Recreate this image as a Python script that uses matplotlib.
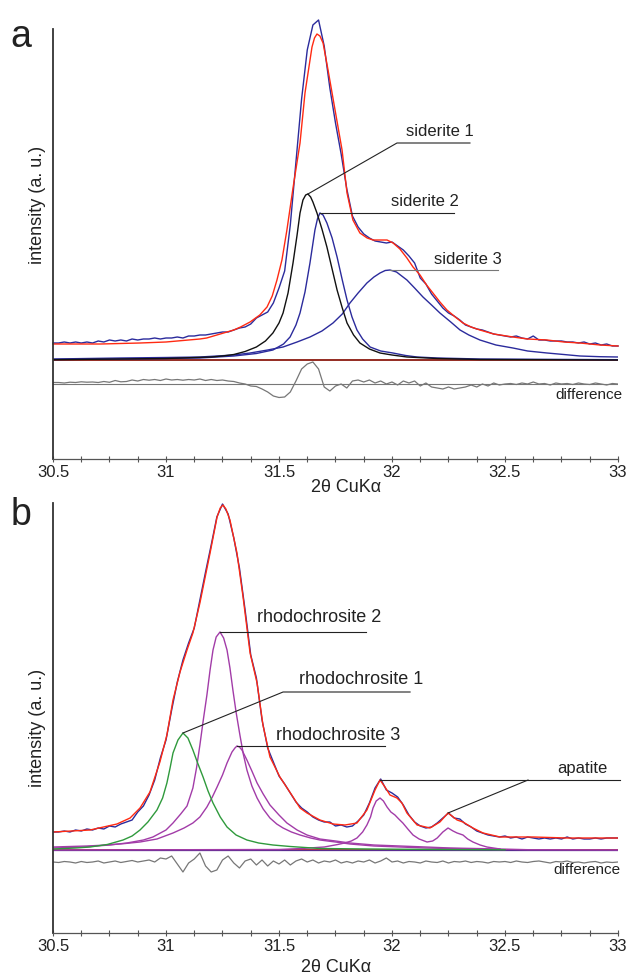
"""XRD peak fits of siderite (a) and rhodochrosite/apatite (b)."""

import matplotlib.pyplot as plt
import numpy as np
from matplotlib.ticker import MultipleLocator

plt.rcParams["font.family"] = ["Liberation Sans", "DejaVu Sans"]

# ---- data (intensity in arbitrary units above the fit baseline) ----
scan_x = np.linspace(30.5, 33.0, 101)          # 2theta steps of the scan
tick_values = [30.5, 31, 31.5, 32, 32.5, 33]
tick_labels = ["30.5", "31", "31.5", "32", "32.5", "33"]

# panel a: siderite
obs_a = [17, 17, 18, 17, 18, 17, 18, 17, 19, 18,
         20, 19, 20, 19, 21, 20, 21, 21, 22, 21,
         22, 22, 23, 22, 24, 24, 25, 25, 26, 27,
         28, 28, 30, 32, 33, 36, 42, 45, 48, 57,
         72, 89, 135, 198, 261, 310, 335, 340, 314, 272,
         237, 206, 171, 144, 133, 126, 122, 119, 118, 117,
         118, 114, 110, 104, 97, 82, 76, 66, 59, 52,
         47, 44, 40, 35, 33, 31, 30, 28, 26, 25,
         24, 23, 24, 22, 21, 24, 20, 20, 19, 19,
         19, 18, 18, 17, 18, 16, 17, 15, 16, 14, 14]
diff_a = [1.5, 1.5, 1, 1.8, 1.5, 2.2, 1.8, 2, 1.5, 2.5,
          1.7, 3.5, 2.2, 2.5, 4, 3, 4.5, 3.8, 4.5, 3.5,
          5, 4, 4.5, 3.8, 4.5, 4, 5, 3.5, 4.5, 3.5,
          4, 3, 2.5, 1, 0, -2, -2.5, -5, -8, -12,
          -13.5, -13, -8, 3, 15, 20, 22, 15, -3, -7,
          -2, 0, -4, 3, 4, 2, 4, 1, 3, 0,
          2, -1, 3, 1, 3, -2, 1, -3, -4, -5,
          -3, -5, -4, -3, -1, -3, 0, -2, 1, -1,
          0, 0.5, -0.5, 1, 0, 2, 0, 0.5, -1, 1,
          0, 0.5, -0.5, 1, 0, -0.5, 1, 0, -1, 0.5, 0]
fit_a_x = [30.5, 30.71, 30.885, 31.0, 31.15, 31.18, 31.24, 31.30, 31.33, 31.372,
           31.415, 31.447, 31.47, 31.491, 31.513, 31.535, 31.562, 31.593, 31.615, 31.646,
           31.657, 31.668, 31.681, 31.695, 31.717, 31.748, 31.779, 31.801, 31.827, 31.858,
           31.89, 31.916, 31.947, 31.978, 32.005, 32.035, 32.066, 32.093, 32.124, 32.153,
           32.181, 32.212, 32.243, 32.28, 32.314, 32.35, 32.389, 32.45, 32.535, 32.6,
           32.686, 32.76, 32.832, 32.92, 33.0]
fit_a_y = [16, 16, 17, 18, 21, 22, 26, 30, 33, 38,
           45, 53, 64, 80, 100, 130, 172, 217, 267, 313,
           322, 326, 324, 317, 290, 250, 210, 167, 140, 127,
           122, 120, 120, 120, 117, 111, 102, 93, 85, 75,
           67, 58, 50, 43, 37, 33, 30, 26, 23, 21,
           20, 18, 17, 15, 14]
sid1_x = [30.5, 31.0, 31.2, 31.25, 31.3, 31.35, 31.4, 31.44, 31.473, 31.5,
          31.518, 31.54, 31.562, 31.58, 31.593, 31.606, 31.618, 31.628, 31.64, 31.65,
          31.668, 31.69, 31.712, 31.735, 31.757, 31.78, 31.801, 31.83, 31.858, 31.9,
          31.947, 32.0, 32.066, 32.2, 32.39, 33.0]
sid1_y = [0.3, 1.5, 3, 4, 5.5, 8.5, 13, 19, 27, 37,
          47, 67, 97, 125, 147, 160, 165, 166, 163, 158,
          147, 131, 113, 91, 70, 52, 37, 25, 17, 11,
          7, 5, 3, 1.5, 0.5, 0]
sid2_x = [30.5, 31.0, 31.15, 31.3, 31.4, 31.473, 31.52, 31.549, 31.575, 31.593,
          31.615, 31.637, 31.659, 31.67, 31.681, 31.695, 31.712, 31.735, 31.757, 31.78,
          31.801, 31.823, 31.845, 31.87, 31.903, 31.95, 32.004, 32.06, 32.111, 32.2,
          32.39, 33.0]
sid2_y = [0.5, 1.5, 2, 4, 6.5, 10, 16, 23, 35, 47,
          68, 97, 130, 141, 147, 145, 137, 122, 103, 80,
          60, 43, 30, 21, 13, 9, 7, 4.5, 3, 2,
          1, 0.3]
sid3_x = [30.5, 30.8, 31.0, 31.15, 31.3, 31.372, 31.45, 31.518, 31.58, 31.637,
          31.69, 31.739, 31.78, 31.814, 31.85, 31.889, 31.92, 31.947, 31.97, 31.991,
          32.02, 32.066, 32.1, 32.137, 32.175, 32.212, 32.26, 32.301, 32.34, 32.389,
          32.46, 32.535, 32.6, 32.686, 32.76, 32.832, 32.92, 33.0]
sid3_y = [1, 2, 2.5, 3, 5, 7, 10, 13, 18, 23,
          29, 37, 46, 57, 67, 77, 83, 87, 89.5, 90,
          88, 80, 72, 63, 55, 47, 38, 30, 25, 20,
          15, 12, 9, 7, 5.5, 4, 3.3, 3]

# panel b: rhodochrosite + apatite
obs_b = [18, 18, 19, 18, 20, 19, 21, 20, 22, 21,
         24, 23, 26, 28, 30, 38, 44, 55, 70, 92,
         110, 140, 168, 190, 207, 222, 250, 278, 305, 333,
         346, 336, 312, 282, 240, 195, 172, 130, 102, 88,
         74, 66, 57, 48, 42, 38, 33, 30, 28, 28,
         24, 25, 23, 24, 29, 35, 47, 62, 71, 60,
         57, 53, 45, 35, 28, 24, 22, 23, 27, 32,
         37, 32, 31, 26, 23, 19, 17, 15, 14, 13,
         14, 12, 13, 11, 13, 12, 11, 12, 11, 12,
         11, 13, 11, 12, 11, 11, 12, 11, 12, 12, 12]
diff_b = [0, -0.5, 0.5, 0, -1, 0.5, -0.5, 0, 1, -1,
          0, 1, -0.5, 0.5, 1.5, 0, 1, 2, 0, 4,
          3, 6, -2, -10, -1, 3, 9, -4, -10, -8,
          2, 6, -1, -6, 1, 3, -3, 2, -4, 1,
          -2, 2, -3, 1, 3, 0, 2, -1, 1, 0,
          2, -1, 0.5, -1, 1, 0, 2, -1, 1, 4,
          0, 1, -1, 0.5, 0, -1, 1, 0, -0.5, 1,
          -1, 0.5, 0, 1, -0.5, 0.5, 0, -1, 0.5, 0,
          0.5, -0.5, 1, 0, -0.5, 0.5, 1, 0, -1, 0.5,
          0, 1, -0.5, 0, -1, 0, 0.5, -1, 0, -0.5, 0]
fit_b_x = [30.5, 30.664, 30.783, 30.841, 30.885, 30.929, 30.973, 31.004, 31.031, 31.062,
           31.093, 31.119, 31.15, 31.195, 31.226, 31.24, 31.252, 31.265, 31.283, 31.314,
           31.341, 31.372, 31.403, 31.429, 31.46, 31.504, 31.562, 31.593, 31.624, 31.681,
           31.739, 31.792, 31.845, 31.889, 31.925, 31.947, 31.969, 31.991, 32.022, 32.044,
           32.066, 32.111, 32.168, 32.212, 32.248, 32.288, 32.314, 32.358, 32.403, 32.478,
           32.624, 32.774, 33.0]
fit_b_y = [18, 20, 26, 32, 42, 58, 88, 115, 150, 178,
           200, 217, 247, 297, 333, 342, 345, 341, 330, 297,
           253, 197, 167, 125, 93, 73, 53, 42, 37, 30,
           26, 25, 27, 40, 60, 70, 63, 55, 52, 47,
           37, 25, 22, 28, 37, 30, 28, 22, 17, 13,
           13, 12, 12]
rho1_x = [30.5, 30.6, 30.664, 30.74, 30.81, 30.85, 30.885, 30.92, 30.96, 30.985,
          31.004, 31.018, 31.031, 31.053, 31.075, 31.097, 31.119, 31.14, 31.164, 31.186,
          31.208, 31.24, 31.27, 31.31, 31.358, 31.41, 31.473, 31.55, 31.681, 31.9,
          32.2, 32.5]
rho1_y = [1, 2, 3, 5.5, 10, 14, 20, 28, 40, 52,
          67, 82, 97, 110, 117, 112, 100, 87, 73, 59,
          47, 33, 23, 15, 10, 7, 5, 3.5, 1.5, 1,
          0.5, 0.2]
rho2_x = [30.5, 30.633, 30.75, 30.827, 30.9, 30.942, 31.0, 31.031, 31.065, 31.093,
          31.119, 31.135, 31.15, 31.165, 31.181, 31.195, 31.208, 31.222, 31.239, 31.255,
          31.27, 31.283, 31.296, 31.31, 31.327, 31.342, 31.358, 31.38, 31.403, 31.43,
          31.46, 31.49, 31.518, 31.555, 31.593, 31.64, 31.681, 31.75, 31.814, 31.92,
          32.035, 32.15, 32.257, 32.478]
rho2_y = [2, 3, 5, 7, 10, 13, 20, 27, 36, 44,
          62, 82, 105, 130, 155, 180, 200, 213, 218, 212,
          200, 182, 160, 138, 115, 96, 80, 64, 52, 41,
          32, 26, 22, 18, 15, 12, 10, 8, 6, 4,
          3, 2, 1.5, 0.5]
rho3_x = [30.5, 30.65, 30.739, 30.82, 30.885, 30.96, 31.031, 31.08, 31.119, 31.15,
          31.181, 31.205, 31.226, 31.25, 31.27, 31.292, 31.305, 31.314, 31.325, 31.336,
          31.358, 31.38, 31.403, 31.43, 31.46, 31.5, 31.535, 31.58, 31.624, 31.681,
          31.75, 31.814, 31.92, 32.035, 32.15, 32.257, 32.478]
rho3_y = [3, 4, 5, 6.5, 8, 11, 17, 22, 27, 33,
          43, 53, 63, 75, 87, 98, 102, 104, 103, 100,
          90, 79, 67, 56, 45, 35, 27, 20, 15, 11,
          9, 7, 5, 4, 3, 2, 1]
apa_x = [30.5, 31.5, 31.6, 31.7, 31.76, 31.79, 31.82, 31.845, 31.87, 31.889,
         31.905, 31.916, 31.93, 31.947, 31.962, 31.978, 31.995, 32.013, 32.03, 32.048,
         32.07, 32.093, 32.12, 32.155, 32.18, 32.2, 32.225, 32.248, 32.27, 32.288,
         32.314, 32.335, 32.358, 32.39, 32.42, 32.478, 32.6, 33.0]
apa_y = [0, 0.5, 1.5, 3, 5.5, 7, 9, 12, 18, 25,
         33, 42, 49, 52, 49, 43, 38, 35, 31, 27,
         21, 15, 11, 8, 9, 12, 18, 22, 19, 17,
         15, 11, 8, 5, 3, 1, 0.3, 0]

NAVY = "#2b2b9c"
RED = "#ff2a12"
MAGENTA = "#a23ca8"
GREEN = "#2f9a3c"
GRAY = "#777777"
TEXT = "#222222"


def style_axes(ax, ylim):
    ax.set_xlim(30.5, 33.0)
    ax.set_ylim(*ylim)
    for side in ("top", "right"):
        ax.spines[side].set_visible(False)
    ax.spines["left"].set_color("#333333")
    ax.spines["left"].set_linewidth(1.3)
    ax.spines["bottom"].set_color("#555555")
    ax.spines["bottom"].set_linewidth(0.9)
    ax.set_yticks([])
    ax.set_xticks(tick_values)
    ax.set_xticklabels(tick_labels)
    ax.xaxis.set_minor_locator(MultipleLocator(0.125))
    ax.tick_params(axis="x", which="both", direction="inout", length=5,
                   width=0.8, color="#555555", labelsize=12, pad=2,
                   labelcolor=TEXT)


def label_line(ax, xs, ys, text, text_xy, size, color="#222222"):
    ax.plot(xs, ys, color=color, lw=0.8, clip_on=False, zorder=5)
    ax.text(*text_xy, text, ha="center", va="center", fontsize=size, color=TEXT)


def peak(xs, ys):
    i = int(np.argmax(ys))
    return xs[i], ys[i]


fig = plt.figure(figsize=(6.3, 9.76), dpi=100)
ax_a = fig.add_axes([53 / 630, 517 / 976, 565 / 630, 430 / 976])
ax_b = fig.add_axes([53 / 630, 43 / 976, 565 / 630, 430 / 976])

# ---- panel a ----
style_axes(ax_a, (-99, 331))
ax_a.axhline(0, color="#8b1a10", lw=1.3, zorder=2)
ax_a.axhline(-24, color=GRAY, lw=0.8, zorder=2)
ax_a.plot(scan_x, np.array(diff_a) - 24, color=GRAY, lw=0.9)
ax_a.plot(sid3_x, sid3_y, color=NAVY, lw=1.0)
ax_a.plot(sid2_x, sid2_y, color=NAVY, lw=1.0)
ax_a.plot(sid1_x, sid1_y, color="#111111", lw=1.0)
ax_a.plot(scan_x, obs_a, color=NAVY, lw=1.0, clip_on=False)
ax_a.plot(fit_a_x, fit_a_y, color=RED, lw=1.0, clip_on=False)

px, py = peak(sid1_x, sid1_y)
label_line(ax_a, [px, 32.022, 32.345], [py, 217, 217], "siderite 1", (32.212, 229), 12)
px, py = peak(sid2_x, sid2_y)
label_line(ax_a, [px, 32.274], [py, py], "siderite 2", (32.146, 158), 12)
px, py = peak(sid3_x, sid3_y)
label_line(ax_a, [px, 32.469], [py, py], "siderite 3", (32.336, 101), 12, color="#777777")
ax_a.text(33.022, -35, "difference", ha="right", va="center", fontsize=11, color=TEXT)

# ---- panel b ----
style_axes(ax_b, (-83, 347))
ax_b.axhline(0, color="#c0303a", lw=1.4, zorder=2)
ax_b.axhline(0, color="#5a2c90", lw=0.9, zorder=2)
ax_b.plot(scan_x, np.array(diff_b) - 12, color=GRAY, lw=0.9)
ax_b.plot(apa_x, apa_y, color=MAGENTA, lw=1.0)
ax_b.plot(rho3_x, rho3_y, color=MAGENTA, lw=1.0)
ax_b.plot(rho2_x, rho2_y, color=MAGENTA, lw=1.0)
ax_b.plot(rho1_x, rho1_y, color=GREEN, lw=1.0)
ax_b.plot(scan_x, obs_b, color=NAVY, lw=1.0)
ax_b.plot(fit_b_x, fit_b_y, color=RED, lw=1.0)

px, py = peak(rho2_x, rho2_y)
label_line(ax_b, [px, 31.885], [py, py], "rhodochrosite 2", (31.679, 232), 13)
px, py = peak(rho1_x, rho1_y)
label_line(ax_b, [px, 31.518, 32.080], [py, 158, 158], "rhodochrosite 1", (31.865, 171), 13)
px, py = peak(rho3_x, rho3_y)
label_line(ax_b, [px, 31.969], [py, py], "rhodochrosite 3", (31.761, 115), 13)

fit_b_x_arr = np.array(fit_b_x)
fit_b_y_arr = np.array(fit_b_y)
m1 = (fit_b_x_arr > 31.8) & (fit_b_x_arr < 32.1)
m2 = (fit_b_x_arr > 32.15) & (fit_b_x_arr < 32.4)
a1 = (fit_b_x_arr[m1][np.argmax(fit_b_y_arr[m1])], fit_b_y_arr[m1].max())
a2 = (fit_b_x_arr[m2][np.argmax(fit_b_y_arr[m2])], fit_b_y_arr[m2].max())
label_line(ax_b, [a1[0], 33.009], [a1[1], a1[1]], "apatite", (32.841, 82), 12)
ax_b.plot([32.602, a2[0]], [a1[1], a2[1]], color="#222222", lw=0.8, zorder=5)
ax_b.text(33.009, -20, "difference", ha="right", va="center", fontsize=11, color=TEXT)

# ---- figure texts ----
for yc, letter, base in ((205, "a", 46.7), (728, "b", 525)):
    fig.text(37 / 630, 1 - yc / 976, "intensity (a. u.)", rotation=90,
             ha="center", va="center", fontsize=13, color=TEXT)
    fig.text(21 / 630, 1 - base / 976, letter, ha="center", va="baseline",
             fontsize=27, color=TEXT)
fig.text(346 / 630, 1 - 487 / 976, "2θ CuKα", ha="center", va="center",
         fontsize=13, color=TEXT)
fig.text(336 / 630, 1 - 967 / 976, "2θ CuKα", ha="center", va="center",
         fontsize=13, color=TEXT)

fig.savefig("out.png", dpi=100)
